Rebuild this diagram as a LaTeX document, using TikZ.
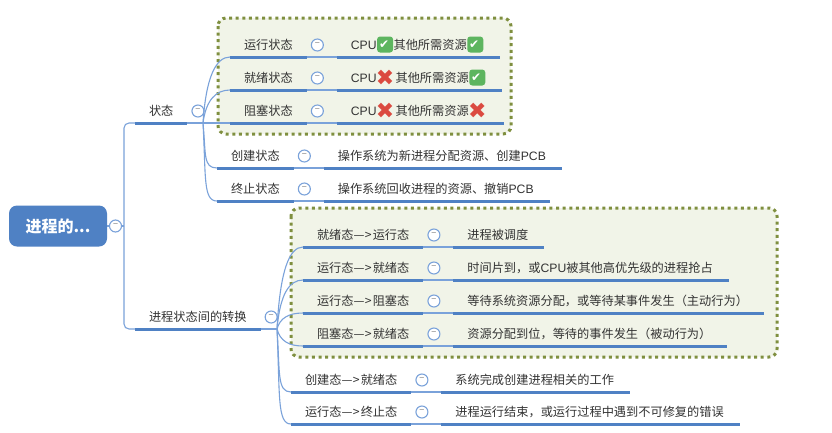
\documentclass[tikz,border=0pt]{standalone}
\usepackage{fontspec}
\setmainfont{Noto Sans CJK SC}
\newfontfamily\symfont{DejaVu Sans}
\newfontfamily\latinfont{Liberation Sans}
\usepackage{xcolor}
\usetikzlibrary{positioning}
\definecolor{barblue}{HTML}{4F81C4}
\definecolor{linkblue}{HTML}{7AA2DA}
\definecolor{boxfill}{HTML}{F1F4E8}
\definecolor{boxdot}{HTML}{7F8F3F}
\definecolor{inkgray}{HTML}{333333}
\definecolor{okgreen}{HTML}{5DB55F}
\definecolor{nored}{HTML}{DB4A40}
\newcommand{\okmark}{\kern.5pt\tikz[baseline=-4.5pt]\node[fill=okgreen,rounded corners=3pt,text=white,inner sep=0pt,minimum size=16pt,font=\symfont\fontsize{12}{12}\selectfont] {✔};\kern.5pt}
\newcommand{\nomark}{\kern.5pt\tikz[baseline=-4.5pt]\node[text=nored,inner sep=0pt,font=\symfont\fontsize{22}{22}\selectfont] {\makebox[16pt]{✖}};\kern.5pt}
\newcommand{\goes}{—\kern.5pt>\kern1pt}
\newcommand{\cpu}{{\latinfont CPU}}
\newcommand{\pcb}{{\latinfont PCB}}
\tikzset{
  topic/.style={text=inkgray, font=\fontsize{12.2}{12.2}\selectfont, text height=10pt, text depth=2pt,
    inner xsep=14pt, inner ysep=6pt, outer sep=0pt},
  leaf/.style={topic, execute at end node=\kern2pt},
  foldmark/.style={circle, draw=linkblue, line width=1.1pt, fill=white, text=gray, inner sep=0pt,
    minimum size=12pt, font=\fontsize{9}{9}\selectfont},
  thickbar/.style={draw=barblue, line width=3pt},
  link/.style={draw=linkblue, line width=1.1pt},
  groupbox/.style={draw=boxdot, fill=boxfill, line width=3pt, dash pattern=on 3pt off 3.6pt, rounded corners=8pt}
}
\begin{document}
\begin{tikzpicture}[x=1pt,y=-1pt]
\useasboundingbox (0,0) rectangle (832,432);
\fill[white] (0,0) rectangle (832,432);
\draw[groupbox] (218,18) rectangle (511,134);
\draw[groupbox] (291,208) rectangle (777,357);

\node[fill=barblue, rounded corners=8pt, text=white, minimum width=98pt, minimum height=41pt,
  font=\bfseries\fontsize{16}{16}\selectfont] (root) at (58,226) {进程的...};
\coordinate (trunk) at (124,226);
\draw[link] (root.east) -- (trunk);
\node[foldmark] (rootfold) at (115.5,226) {−};

\node[topic, anchor=south west] (state) at (135,123) {状态};
\node[topic, anchor=south west] (change) at (135,329) {进程状态间的转换};
\node[foldmark, right=4pt of state] (statefold) {−};
\node[foldmark, right=4pt of change] (changefold) {−};
\coordinate (statej) at (203,123);
\coordinate (changej) at (277,329);
\draw[link, rounded corners=5pt] (trunk) |- (state.south west);
\draw[link, rounded corners=5pt] (trunk) |- (change.south west);
\draw[thickbar] (state.south west) -- (state.south east);
\draw[thickbar] (change.south west) -- (change.south east);
\draw[link] (state.south east) -- (statej);
\draw[link] (change.south east) -- (changej);

\foreach \n/\x/\y/\name/\leaf in {
  run/230/57/运行状态/{\cpu\okmark 其他所需资源\okmark},
  ready/230/90/就绪状态/{\cpu\nomark 其他所需资源\okmark},
  block/230/123/阻塞状态/{\cpu\nomark 其他所需资源\nomark},
  create/217/168/创建状态/{操作系统为新进程分配资源、创建\pcb},
  finish/217/201/终止状态/{操作系统回收进程的资源、撤销\pcb}} {
  \node[topic, anchor=south west] (\n) at (\x,\y) {\name};
  \node[foldmark, right=4pt of \n] (\n-fold) {−};
  \node[leaf, right=30pt of \n] (\n-leaf) {\leaf};
  \draw[link] (statej) .. controls +(3,{(\y-123)*0.7}) and +(-14,0) .. (\n.south west);
  \draw[link] (\n.south east) -- (\n-leaf.south west);
  \draw[thickbar] (\n.south west) -- (\n.south east);
  \draw[thickbar] (\n-leaf.south west) -- (\n-leaf.south east);
}

\foreach \n/\x/\y/\name/\leaf in {
  torun/303/247/就绪态\goes 运行态/{进程被调度},
  toready/303/280/运行态\goes 就绪态/{时间片到，或\cpu 被其他高优先级的进程抢占},
  toblock/303/313/运行态\goes 阻塞态/{等待系统资源分配，或等待某事件发生（主动行为）},
  unblock/303/346/阻塞态\goes 就绪态/{资源分配到位，等待的事件发生（被动行为）},
  admit/291/392/创建态\goes 就绪态/{系统完成创建进程相关的工作},
  exit/291/424/运行态\goes 终止态/{进程运行结束，或运行过程中遇到不可修复的错误}} {
  \node[topic, anchor=south west] (\n) at (\x,\y) {\name};
  \node[foldmark, right=4pt of \n] (\n-fold) {−};
  \node[leaf, right=30pt of \n] (\n-leaf) {\leaf};
  \draw[link] (changej) .. controls +(3,{(\y-329)*0.7}) and +(-14,0) .. (\n.south west);
  \draw[link] (\n.south east) -- (\n-leaf.south west);
  \draw[thickbar] (\n.south west) -- (\n.south east);
  \draw[thickbar] (\n-leaf.south west) -- (\n-leaf.south east);
}
\end{tikzpicture}
\end{document}
